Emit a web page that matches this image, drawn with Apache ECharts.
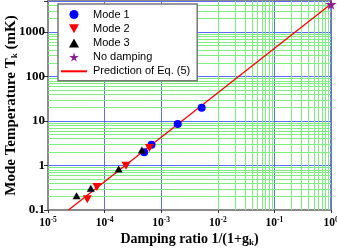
<!DOCTYPE html>
<html>
<head>
<meta charset="utf-8">
<script src="https://cdn.jsdelivr.net/npm/echarts@6/dist/echarts.min.js"></script>
<style>html,body{margin:0;padding:0;background:#fff}#c{width:337px;height:249px}</style>
</head>
<body>
<div id="c"></div>
<script>
// Data
const mode1X = [5.0e-4, 6.75e-4, 1.96e-3, 5.19e-3];
const mode1Y = [1.98, 2.93, 8.6, 19.9];
const mode2X = [4.95e-5, 7.3e-5, 2.39e-4, 6.2e-4];
const mode2Y = [0.174, 0.33, 0.99, 2.47];
const mode3X = [3.2e-5, 5.7e-5, 1.77e-4, 4.55e-4];
const mode3Y = [0.21, 0.31, 0.83, 2.23];
const noDampX = [1];
const noDampY = [4200];
const predX = [2.3e-5, 1];
const predY = [0.1, 4300];
const xDecades = [-5, -4, -3, -2, -1];
const yDecades = [-1, 0, 1, 2, 3];
const minorMults = [2, 3, 4, 5, 6, 7, 8, 9];

const pairs = (xs, ys) => xs.map((x, i) => [x, ys[i]]);
const xMinor = [];
xDecades.forEach(d => minorMults.forEach(m => xMinor.push(m * Math.pow(10, d))));
const yMinor = [];
yDecades.forEach(d => minorMults.forEach(m => { const v = m * Math.pow(10, d); if (v < 5000) yMinor.push(v); }));

const serif = 'Liberation Serif';
const greenLine = { color: '#7def7d', width: 1, type: 'solid' };
const minorMarks = xMinor.map(v => ({ xAxis: v })).concat(yMinor.map(v => ({ yAxis: v })));

const SYM_DOWN = 'path://M0,0 L10,0 L5,9 Z';
const SYM_UP = 'path://M5,0 L10,9 L0,9 Z';
const SYM_STAR = 'path://M50,0 L61,35 L98,35 L68,57 L79,91 L50,70 L21,91 L32,57 L2,35 L39,35 Z';

const chart = echarts.init(document.getElementById('c'), null, { renderer: 'canvas' });
chart.setOption({
  animation: false,
  backgroundColor: '#fff',
  grid: { left: 48, right: 6, top: 1, bottom: 39, show: true, borderColor: '#8a8a8a', borderWidth: 2, backgroundColor: 'transparent', outerBoundsMode: 'none', containLabel: false },
  legend: {
    orient: 'vertical', left: 58, top: 4, z: 20,
    symbolKeepAspect: true,
    data: [
      { name: 'Mode 1', icon: 'circle', itemStyle: { color: '#0000ff' } },
      { name: 'Mode 2', icon: SYM_DOWN, itemStyle: { color: '#ff0000' } },
      { name: 'Mode 3', icon: SYM_UP, itemStyle: { color: '#000000' } },
      { name: 'No damping', icon: SYM_STAR, itemStyle: { color: '#8e1f8e' } },
      { name: 'Prediction of Eq. (5)', itemStyle: { opacity: 0 } }
    ],
    backgroundColor: '#fff', borderColor: '#777', borderWidth: 1.5, borderRadius: 0,
    padding: [5, 7, 4, 2], itemGap: 3.2, itemWidth: 26, itemHeight: 9,
    textStyle: { fontFamily: 'Liberation Sans', fontSize: 11, color: '#000', padding: [0, 0, 0, 1] }
  },
  xAxis: {
    type: 'log', min: 1e-5, max: 1, logBase: 10,
    name: '{t|Damping ratio 1/(1+g}{sub|k}{t|)}', nameLocation: 'middle', nameGap: 22, nameMoveOverlap: false,
    nameTextStyle: { rich: {
      t: { fontFamily: serif, fontWeight: 'bold', fontSize: 14, color: '#000' },
      sub: { fontFamily: serif, fontWeight: 'bold', fontSize: 9, color: '#000', verticalAlign: 'bottom', padding: [6, 0, 0, 0] }
    } },
    axisLine: { show: true, lineStyle: { color: '#8a8a8a', width: 2 } },
    axisTick: { show: true, length: 3, lineStyle: { color: '#333' } },
    splitLine: { show: true, lineStyle: { color: '#5a6cff', width: 1 } },
    axisLabel: {
      margin: 6,
      formatter: v => '{b|10}{s|' + Math.round(Math.log10(v)) + '}',
      rich: {
        b: { fontFamily: serif, fontWeight: 'bold', fontSize: 11.5, color: '#000', lineHeight: 14 },
        s: { fontFamily: serif, fontWeight: 'bold', fontSize: 7.5, color: '#000', verticalAlign: 'top', lineHeight: 14, padding: [0, 0, 8, 0] }
      }
    }
  },
  yAxis: {
    type: 'log', min: 0.1, max: 5000, logBase: 10,
    name: '{t|Mode Temperature T}{sub|k}{t| (mK)}', nameLocation: 'middle', nameGap: 29, nameMoveOverlap: false,
    nameTextStyle: { rich: {
      t: { fontFamily: serif, fontWeight: 'bold', fontSize: 15, color: '#000' },
      sub: { fontFamily: serif, fontWeight: 'bold', fontSize: 9, color: '#000', verticalAlign: 'bottom', padding: [6, 0, 0, 0] }
    } },
    axisLine: { show: true, lineStyle: { color: '#8a8a8a', width: 2 } },
    axisTick: { show: true, length: 4, lineStyle: { color: '#333' } },
    splitLine: { show: true, lineStyle: { color: '#5a6cff', width: 1 } },
    axisLabel: {
      margin: 3, fontFamily: serif, fontWeight: 'bold', fontSize: 13, color: '#000',
      formatter: v => { const l = Math.log10(v); if (Math.abs(l - Math.round(l)) > 1e-6) return ''; return String(+Math.pow(10, Math.round(l)).toPrecision(3)); }
    }
  },
  series: [
    { type: 'scatter', data: [], z: 1, silent: true,
      markLine: { silent: true, z: 1, symbol: ['none', 'none'], label: { show: false }, lineStyle: greenLine, data: minorMarks, animation: false } },
    { name: 'Prediction of Eq. (5)', type: 'line', data: pairs(predX, predY), symbol: 'none', showSymbol: false,
      lineStyle: { color: '#ff0000', width: 1.3 }, itemStyle: { color: '#ff0000' }, z: 3 },
    { name: 'Mode 1', type: 'scatter', data: pairs(mode1X, mode1Y), symbol: 'circle', symbolSize: 8, itemStyle: { color: '#0000ff', opacity: 1 }, z: 4 },
    { name: 'Mode 2', type: 'scatter', data: pairs(mode2X, mode2Y), symbol: SYM_DOWN, symbolSize: [9, 8], itemStyle: { color: '#ff0000', opacity: 1 }, z: 4 },
    { name: 'Mode 3', type: 'scatter', data: pairs(mode3X, mode3Y), symbol: SYM_UP, symbolSize: [8, 7], itemStyle: { color: '#000000', opacity: 1 }, z: 4 },
    { name: 'No damping', type: 'scatter', data: pairs(noDampX, noDampY), symbol: SYM_STAR, symbolSize: 11, itemStyle: { color: '#8e1f8e', opacity: 1 }, z: 4 }
  ]
});
</script>
</body>
</html>
